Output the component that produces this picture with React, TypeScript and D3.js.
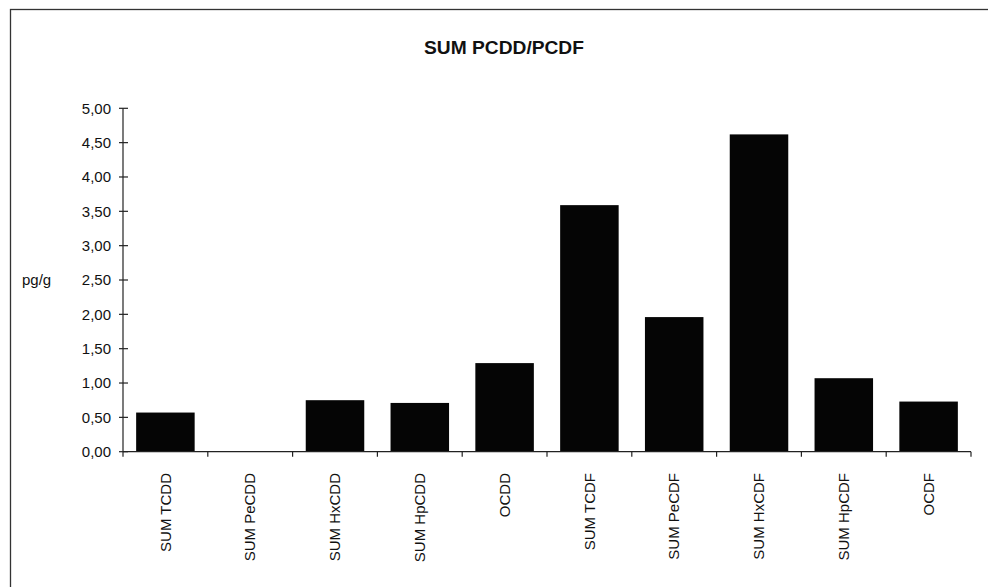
import React from "react";
import * as d3 from "d3";

const categories = [
  "SUM TCDD",
  "SUM PeCDD",
  "SUM HxCDD",
  "SUM HpCDD",
  "OCDD",
  "SUM TCDF",
  "SUM PeCDF",
  "SUM HxCDF",
  "SUM HpCDF",
  "OCDF",
];
const values = [0.57, 0.0, 0.75, 0.71, 1.29, 3.59, 1.96, 4.62, 1.07, 0.73];
const yTicks = [0, 0.5, 1, 1.5, 2, 2.5, 3, 3.5, 4, 4.5, 5];
const title = "SUM PCDD/PCDF";
const yLabel = "pg/g";

const W = 988;
const H = 587;
const FONT = "Arial, 'Liberation Sans', Helvetica, sans-serif";

export default function App() {
  const x = d3
    .scaleBand<string>()
    .domain(categories)
    .range([123, 971])
    .paddingInner(0.31)
    .paddingOuter(0.155);
  const y = d3.scaleLinear().domain([0, 5]).range([451.7, 108.3]);
  const fmt = (v: number) => d3.format(".2f")(v).replace(".", ",");
  const [x0, x1] = x.range();
  const boundaries = d3.range(categories.length + 1).map((i) => x0 + i * x.step());
  const stroke = "#222";

  return (
    <svg
      width={W}
      height={H}
      style={{ position: "absolute", left: 0, top: 0, background: "#fff" }}
      fontFamily={FONT}
    >
      <rect x={0} y={0} width={W} height={H} fill="#fff" />
      <rect x={10.5} y={9.5} width={1000} height={700} fill="none" stroke="#333" strokeWidth={1.3} />
      <text x={504} y={54} textAnchor="middle" fontSize={19.2} fontWeight="bold" fill="#111">
        {title}
      </text>
      <text x={22} y={285} fontSize={15} fill="#111">
        {yLabel}
      </text>
      {/* bars */}
      {categories.map((c, i) => (
        <rect
          key={c}
          x={x(c)!}
          y={y(values[i])}
          width={x.bandwidth()}
          height={y(0) - y(values[i])}
          fill="#050505"
        />
      ))}
      {/* y axis */}
      <line x1={x0} x2={x0} y1={y(5)} y2={y(0)} stroke={stroke} strokeWidth={1.2} />
      {yTicks.map((t) => (
        <g key={t}>
          <line x1={x0 - 4} x2={x0 + 5} y1={y(t)} y2={y(t)} stroke={stroke} strokeWidth={1.2} />
          <text x={111} y={y(t)} dy="0.35em" textAnchor="end" fontSize={15} fill="#111">
            {fmt(t)}
          </text>
        </g>
      ))}
      {/* x axis */}
      <line x1={x0} x2={x1} y1={y(0)} y2={y(0)} stroke={stroke} strokeWidth={1.2} />
      {boundaries.map((b, i) => (
        <line key={i} x1={b} x2={b} y1={y(0)} y2={y(0) + 5} stroke={stroke} strokeWidth={1.2} />
      ))}
      {categories.map((c) => {
        const cx = x(c)! + x.bandwidth() / 2;
        return (
          <text
            key={c}
            transform={`translate(${cx},473) rotate(-90)`}
            textAnchor="end"
            dy="0.35em"
            fontSize={15}
            fill="#111"
          >
            {c}
          </text>
        );
      })}
    </svg>
  );
}
